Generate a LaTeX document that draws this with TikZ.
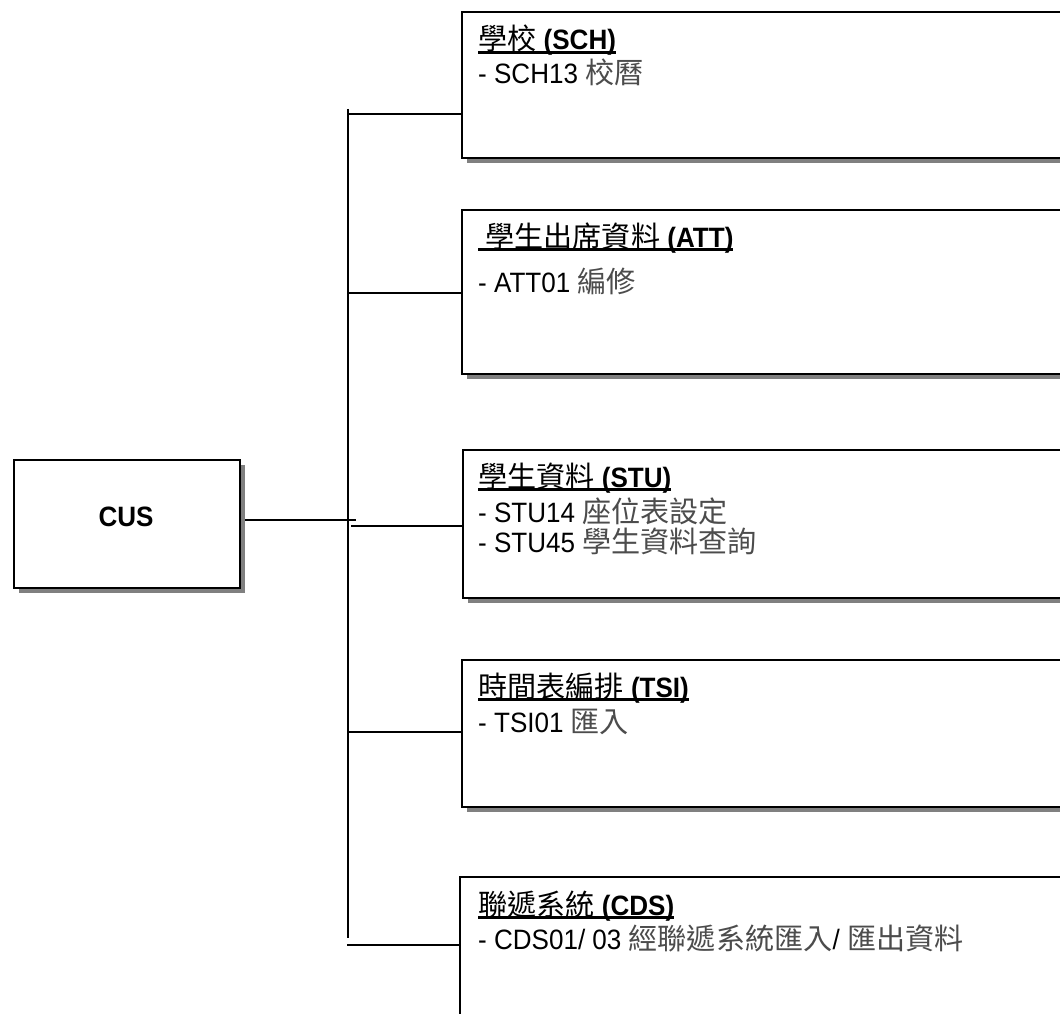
\documentclass[tikz,border=0pt]{standalone}
\usepackage{fontspec}
\setmainfont{Liberation Sans}[FakeStretch=0.93]
\newfontfamily\cjk{Noto Sans CJK TC}[Scale=1.04]
\usetikzlibrary{shadows}

\newcommand{\zh}[1]{{\cjk #1}}
\newcommand{\zhg}[1]{{\cjk\color{black!70}#1}}
\newcommand{\titleline}[1]{\setbox0\hbox{#1}\rlap{\rule[-4pt]{\wd0}{2.6pt}}\box0}

\tikzset{
  modbox/.style={draw, line width=1.8pt, fill=white, anchor=north west, inner sep=0pt,
    minimum width=640pt,
    drop shadow={shadow xshift=5pt, shadow yshift=-5pt, fill=gray, opacity=1}},
  modtext/.style={anchor=base west, inner sep=0pt, font=\fontsize{28}{34}\selectfont},
  link/.style={line width=1.8pt}
}

\begin{document}
\begin{tikzpicture}[x=1pt,y=-1pt]

    \useasboundingbox (0,0) rectangle (1060,1014);
    \clip (0,0) rectangle (1060,1014);

    % root
    \node[modbox, minimum width=226pt, minimum height=128pt] (cus) at (13,459) {};
    \node[modtext, anchor=center, font=\fontsize{28}{34}\selectfont\bfseries] at (126,517) {CUS};

    % modules
    \node[modbox, minimum height=146pt] (sch) at (461,11) {};
    \node[modbox, minimum height=164pt] (att) at (461,209) {};
    \node[modbox, minimum height=148pt] (stu) at (462,449) {};
    \node[modbox, minimum height=147pt] (tsi) at (461,659) {};
    \node[modbox, minimum height=200pt] (cds) at (459,876) {};

    \node[modtext] at (478,50) {\titleline{\zh{學校} \textbf{(SCH)}}};
    \node[modtext] at (478,84) {- SCH13 \zhg{校曆}};

    \node[modtext] at (478,247) {\titleline{\ \zh{學生出席資料} \textbf{(ATT)}}};
    \node[modtext] at (478,292) {- ATT01 \zhg{編修}};

    \node[modtext] at (478,487) {\titleline{\zh{學生資料} \textbf{(STU)}}};
    \node[modtext] at (478,522) {- STU14 \zhg{座位表設定}};
    \node[modtext] at (478,552) {- STU45 \zhg{學生資料查詢}};

    \node[modtext] at (478,697) {\titleline{\zh{時間表編排} \textbf{(TSI)}}};
    \node[modtext] at (478,732) {- TSI01 \zhg{匯入}};

    \node[modtext] at (478,915) {\titleline{\zh{聯遞系統} \textbf{(CDS)}}};
    \node[modtext] at (478,949) {- CDS01/ 03 \zhg{經聯遞系統匯入}/ \zhg{匯出資料}};

    % connectors
    \coordinate (bustop) at (348,109);
    \coordinate (busend) at (348,938);
    \coordinate (cusjoin) at (356,520);
    \draw[link] (bustop) -- (busend);
    \draw[link] ([xshift=4pt]cus.east |- cusjoin) -- (cusjoin);

    \coordinate (tapsch) at (348,114);
    \coordinate (tapatt) at (348,293);
    \coordinate (tapstu) at (351,526);
    \coordinate (taptsi) at (348,732);
    \coordinate (tapcds) at (347,945);
    \foreach \m in {sch,att,stu,tsi,cds}
      \draw[link] (tap\m) -- (tap\m -| \m.west);

\end{tikzpicture}
\end{document}
